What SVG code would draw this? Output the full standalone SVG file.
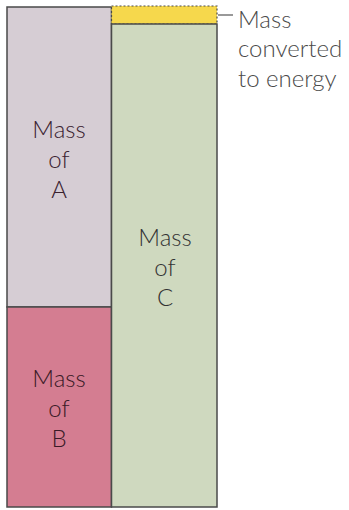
<svg xmlns="http://www.w3.org/2000/svg" width="349" height="510" viewBox="0 0 349 510">
<style>
.box{stroke:#4a4a4a;stroke-width:1.5}
.t{font-family:"Lato","Liberation Sans",sans-serif;font-size:24px;font-weight:300;text-anchor:middle}
.lbl{font-family:"Lato","Liberation Sans",sans-serif;font-size:24px;font-weight:300;fill:#4a4a4a}
</style>
<rect width="349" height="510" fill="#ffffff"/>
<g id="nodeA">
<rect class="box" x="7" y="7" width="104.5" height="300" fill="#d6cdd4"/>
<text class="t" fill="#3a2230"><tspan x="59" y="138">Mass</tspan><tspan x="59" y="168">of</tspan><tspan x="59" y="198">A</tspan></text>
</g>
<g id="nodeB">
<rect class="box" x="7" y="307" width="104.5" height="200" fill="#d47d91"/>
<text class="t" fill="#3a1a26"><tspan x="59" y="387">Mass</tspan><tspan x="59" y="417">of</tspan><tspan x="59" y="447">B</tspan></text>
</g>
<g id="nodeE">
<rect x="111.5" y="6" width="105.5" height="18" fill="#f6d84c" stroke="#4a4a4a" stroke-width="1.2" stroke-dasharray="2 2"/>
</g>
<g id="nodeC">
<rect class="box" x="111.5" y="24" width="105.5" height="483" fill="#cfd9bf"/>
<text class="t" fill="#333333"><tspan x="165" y="246">Mass</tspan><tspan x="165" y="276">of</tspan><tspan x="165" y="306">C</tspan></text>
</g>
<g id="connectors">
<line x1="218" y1="15" x2="233" y2="15" stroke="#555" stroke-width="1.2"/>
</g>
<g id="label">
<text class="lbl"><tspan x="238" y="28">Mass</tspan><tspan x="238" y="57">converted</tspan><tspan x="238" y="87">to energy</tspan></text>
</g>
</svg>
